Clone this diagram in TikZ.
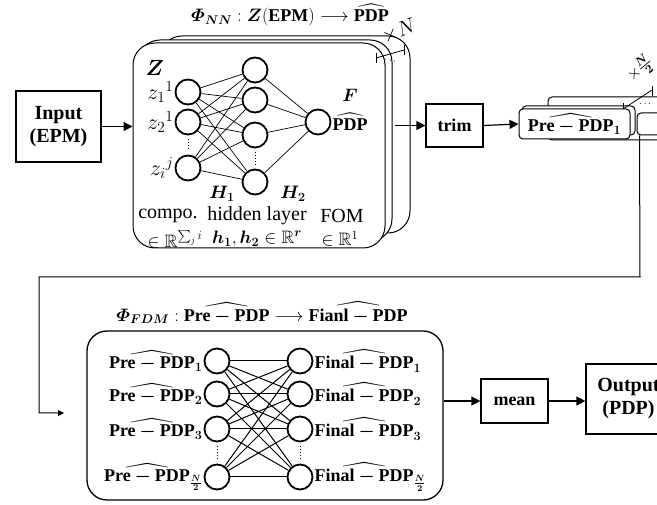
\RequirePackage{fix-cm}
\documentclass[tikz,border=0pt]{standalone}
\usepackage{amsmath,amssymb,bm}
\usepackage[no-math]{fontspec}
\setmainfont{Liberation Serif}
\usetikzlibrary{arrows.meta}
\newcommand{\tbf}[1]{\textbf{#1}}
\newcommand{\hatpre}{\widehat{\tbf{Pre}\bm{-}\tbf{PDP}}}
\newcommand{\hatfin}{\widehat{\tbf{Final}\bm{-}\tbf{PDP}}}
\begin{document}
\begin{tikzpicture}[x=1pt,y=-1pt, font=\fontsize{18}{21}\selectfont,
  box/.style={draw, line width=1.2pt, align=center, inner sep=0pt},
  bigtext/.style={font=\fontsize{20}{23}\selectfont},
  panel/.style={draw, line width=1pt, rounded corners=22pt, fill=white, inner sep=0pt},
  smallpanel/.style={draw, line width=1pt, rounded corners=4pt, fill=white, inner sep=0pt},
  neuron/.style={circle, draw, line width=1.8pt, minimum size=25pt, inner sep=0pt, fill=white},
  link/.style={line width=0.7pt},
  blink/.style={line width=1pt},
  vdots/.style={dotted, line width=1pt, shorten <=4pt, shorten >=4pt},
  arr/.style={-{Triangle[length=9pt,width=9pt]}, line width=1.2pt},
  sarr/.style={-{Triangle[length=6pt,width=6pt]}, line width=1pt},
  tick/.style={line width=0.8pt},
  lbl/.style={inner sep=1pt},
  mlbl/.style={inner sep=1pt, font=\fontsize{22}{24}\selectfont}]
\useasboundingbox (0,0) rectangle (657,505);
\clip (0,0) rectangle (657,505);

% ---------- top panel ----------
\node[box, bigtext, minimum width=85pt, minimum height=71pt] (inp) at (58.5,126.5) {\tbf{Input}\\\tbf{(EPM)}};

\node[panel, minimum width=250pt, minimum height=197pt] (bk2) at (285,134.5) {};
\node[panel, minimum width=254pt, minimum height=201pt] (bk1) at (265,140.5) {};
\node[panel, minimum width=252pt, minimum height=205pt] (nn) at (259,145.5) {};

\node[lbl] (t1) at (290,15) {$\bm{\varPhi}_{\bm{NN}}:\bm{Z}(\tbf{EPM})\longrightarrow\widehat{\tbf{PDP}}$};

% xN bracket
\coordinate (bA) at (376,58);
\coordinate (bB) at (404,50);
\draw[tick] (bA) -- (bB);
\draw[tick] ([yshift=-5]bA) -- ([yshift=5]bA);
\draw[tick] ([yshift=-5]bB) -- ([yshift=5]bB);
\node[lbl, rotate=22, font=\fontsize{21}{23}\selectfont] (xn) at (399,31) {$\times N$};
\node[lbl, font=\fontsize{10}{12}\selectfont, rotate=-15] (dd1) at (391,61) {$\cdots$};

\node[neuron] (i1) at (188,92) {};
\node[neuron] (i2) at (188,122) {};
\node[neuron] (i3) at (188,168) {};
\node[neuron] (h1) at (255,70) {};
\node[neuron] (h2) at (255,100) {};
\node[neuron] (h3) at (255,135) {};
\node[neuron] (h4) at (255,182) {};
\node[neuron] (o) at (318,122) {};

\foreach \a in {i1,i2,i3}{\foreach \b in {h1,h2,h3,h4}{\draw[link] (\a) -- (\b);}}
\foreach \b in {h1,h2,h3,h4}{\draw[link] (\b) -- (o);}
\draw[vdots] (i2) -- (i3);
\draw[vdots] (h3) -- (h4);

\node[mlbl] (lz) at (155,68) {$\bm{Z}$};
\node[mlbl, anchor=east] (lz1) at (i1.west) {$z_1{}^1$};
\node[mlbl, anchor=east] (lz2) at (i2.west) {$z_2{}^1$};
\node[mlbl, anchor=east] (lz3) at (i3.west) {$z_i{}^j$};
\node[lbl] (lh1) at (222,194) {$\bm{H}_{\bm{1}}$};
\node[lbl] (lh2) at (293,194) {$\bm{H}_{\bm{2}}$};
\node[lbl] (lf) at (350,95) {$\bm{F}$};
\node[lbl, anchor=west] (lp) at (o.east) {$\widehat{\tbf{PDP}}$};

\node[lbl, bigtext] (c1) at (168,216) {compo.};
\node[lbl, bigtext] (c2) at (257,216) {hidden layer};
\node[lbl, bigtext] (c3) at (342,216) {FOM};
\node[lbl] (d1) at (175,239) {$\in\mathbb{R}^{\sum_j i}$};
\node[lbl] (d2) at (257,239) {$\bm{h}_{\bm 1},\bm{h}_{\bm 2}\in\mathbb{R}^{\bm r}$};
\node[lbl] (d3) at (340,239) {$\in\mathbb{R}^1$};

\draw[arr] (inp.east) -- (inp.east -| nn.west);

\node[box, minimum width=57pt, minimum height=43pt] (trim) at (454.5,125.5) {\tbf{trim}};
\draw[arr] ([xshift=2pt]bk1.east |- trim.west) -- (trim.west);

% Pre stack
\node[smallpanel, minimum width=172pt, minimum height=43pt] (preB) at (634,118.5) {};
\node[smallpanel, minimum width=83pt, minimum height=22pt] (preN) at (678.5,124) {};
\node[smallpanel, minimum width=113pt, minimum height=29pt] (pre2) at (578.5,120.5) {};
\node[smallpanel, minimum width=111pt, minimum height=30pt] (pre1) at (574.5,124) {$\hatpre_{\bm 1}$};
\draw[arr] (trim.east) -- (pre1.west);

\coordinate (cA) at (623,109);
\coordinate (cB) at (652,90);
\draw[tick] (cA) -- (cB);
\draw[tick] (cA) -- ([yshift=6]cA);
\draw[tick] ([yshift=-6]cB) -- ([yshift=4]cB);
\node[lbl, rotate=40, font=\fontsize{17}{19}\selectfont] (xn2) at (640,69) {$\times\frac{\bm N}{\bm 2}$};
\node[lbl, font=\fontsize{10}{12}\selectfont] (dd2) at (646,104) {$\cdots$};

% connector
\coordinate (k1) at (640,277);
\coordinate (k2) at (39,277);
\coordinate (k3) at (39,413);
\coordinate (k4) at (64,413);
\draw[sarr] ([xshift=3pt]preN.south west) -- (k1) -- (k2) -- (k3) -- (k4);

% ---------- bottom panel ----------
\node[lbl] (t2) at (262,313) {$\bm{\varPhi}_{\bm{FDM}}:\hatpre\longrightarrow\widehat{\tbf{Fianl}\bm{-}\tbf{PDP}}$};

\node[draw, line width=1.3pt, rounded corners=20pt, minimum width=356pt, minimum height=169pt, inner sep=0pt] (fdm) at (265,415.5) {};

\node[neuron] (l1) at (217,361) {};
\node[neuron] (l2) at (217,394) {};
\node[neuron] (l3) at (217,429) {};
\node[neuron] (l4) at (217,477) {};
\node[neuron] (r1) at (300,361) {};
\node[neuron] (r2) at (300,394) {};
\node[neuron] (r3) at (300,429) {};
\node[neuron] (r4) at (300,477) {};
\foreach \a in {l1,l2,l3,l4}{\foreach \b in {r1,r2,r3,r4}{\draw[blink] (\a) -- (\b);}}
\draw[vdots] (l3) -- (l4);
\draw[vdots] (r3) -- (r4);

\node[lbl, anchor=east] (pl1) at (l1.west) {$\hatpre_{\bm 1}$};
\node[lbl, anchor=east] (pl2) at (l2.west) {$\hatpre_{\bm 2}$};
\node[lbl, anchor=east] (pl3) at (l3.west) {$\hatpre_{\bm 3}$};
\node[lbl, anchor=east] (pl4) at (l4.west) {$\hatpre_{\frac{\bm N}{\bm 2}}$};
\node[lbl, anchor=west] (pr1) at (r1.east) {$\hatfin_{\bm 1}$};
\node[lbl, anchor=west] (pr2) at (r2.east) {$\hatfin_{\bm 2}$};
\node[lbl, anchor=west] (pr3) at (r3.east) {$\hatfin_{\bm 3}$};
\node[lbl, anchor=west] (pr4) at (r4.east) {$\hatfin_{\frac{\bm N}{\bm 2}}$};

\node[box, minimum width=67pt, minimum height=44pt] (mean) at (514.5,401) {\tbf{mean}};
\node[box, bigtext, minimum width=85pt, minimum height=70pt] (out) at (628.5,399) {\tbf{Output}\\\tbf{(PDP)}};
\draw[arr] (fdm.east |- mean.west) -- (mean.west);
\draw[arr] (mean.east) -- (out.west |- mean.east);
\end{tikzpicture}
\end{document}
